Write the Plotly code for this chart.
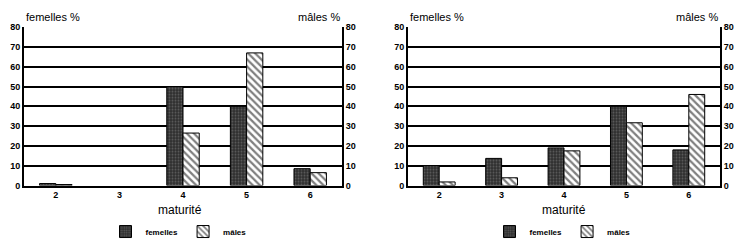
import plotly.graph_objects as go

categories = [2, 3, 4, 5, 6]
tick_labels = ["2", "3", "4", "5", "6"]
left_femelles = [1, None, 50, 40, 8.5]
left_males = [0.5, None, 26.5, 67, 6.5]
right_femelles = [10, 13.7, 19, 40, 18]
right_males = [1.8, 3.9, 17.5, 31.7, 46]

FONT = "Liberation Sans"
fem_marker = dict(color="#2e2e2e", line=dict(color="black", width=1),
                  pattern=dict(shape=".", fgcolor="#8a8a8a", size=3, solidity=0.35))
male_marker = dict(color="white", line=dict(color="black", width=1),
                   pattern=dict(shape="\\", fgcolor="black", bgcolor="white", size=5, solidity=0.45))

fig = go.Figure()
panels = [
    ("x", "y", left_femelles, left_males, "legend"),
    ("x2", "y3", right_femelles, right_males, "legend2"),
]
for xa, ya, fem, mal, leg in panels:
    fig.add_trace(go.Bar(x=categories, y=fem, name="femelles", xaxis=xa, yaxis=ya,
                         marker=fem_marker, legend=leg))
    fig.add_trace(go.Bar(x=categories, y=mal, name="mâles", xaxis=xa, yaxis=ya,
                         marker=male_marker, legend=leg))

ydom = [0.251, 0.908]
xdoms = [[0.032, 0.456], [0.544, 0.96]]
tickfont = dict(family=FONT, size=9, color="black", weight="bold")
common_x = dict(range=[1.5, 6.5], tickvals=categories, ticktext=tick_labels,
                showgrid=False, zeroline=False, showline=True, linecolor="black", linewidth=2,
                ticks="", tickfont=tickfont, fixedrange=True)
common_y = dict(range=[0, 80], dtick=10, showgrid=True, gridcolor="black", gridwidth=2,
                zeroline=False, showline=True, linecolor="black", linewidth=2, ticks="",
                tickfont=tickfont, fixedrange=True)

legfont = dict(family=FONT, size=8, color="black", weight="bold")
fig.update_layout(
    width=750, height=251, margin=dict(l=0, r=0, t=0, b=0),
    paper_bgcolor="white", plot_bgcolor="white",
    barmode="group", bargap=0.49, bargroupgap=0,
    font=dict(family=FONT, color="black"),
    xaxis=dict(domain=xdoms[0], anchor="y", **common_x),
    xaxis2=dict(domain=xdoms[1], anchor="y3", **common_x),
    yaxis=dict(domain=ydom, anchor="x", side="left", **common_y),
    yaxis2=dict(domain=ydom, anchor="x", side="right", overlaying="y", **{**common_y, "showgrid": False}),
    yaxis3=dict(domain=ydom, anchor="x2", side="left", **common_y),
    yaxis4=dict(domain=ydom, anchor="x2", side="right", overlaying="y3", **{**common_y, "showgrid": False}),
    legend=dict(orientation="h", x=0.238, y=0.06, xanchor="center", yanchor="middle",
                font=legfont, itemwidth=30, bgcolor="rgba(0,0,0,0)"),
    legend2=dict(orientation="h", x=0.75, y=0.06, xanchor="center", yanchor="middle",
                 font=legfont, itemwidth=30, bgcolor="rgba(0,0,0,0)"),
)
# invisible traces so right axes render
fig.add_trace(go.Scatter(x=[None], y=[None], xaxis="x", yaxis="y2", showlegend=False))
fig.add_trace(go.Scatter(x=[None], y=[None], xaxis="x2", yaxis="y4", showlegend=False))

annots = [
    dict(x=0.032, y=1.0, text="femelles %", xanchor="left"),
    dict(x=0.456, y=1.0, text="mâles %", xanchor="right"),
    dict(x=0.544, y=1.0, text="femelles %", xanchor="left"),
    dict(x=0.96, y=1.0, text="mâles %", xanchor="right"),
]
for a in annots:
    fig.add_annotation(xref="paper", yref="paper", yanchor="top", showarrow=False,
                       font=dict(family=FONT, size=11, color="black"), yshift=-4, **a)
for xc in [0.24, 0.752]:
    fig.add_annotation(xref="paper", yref="paper", x=xc, y=(251 - 213) / 251, text="maturité",
                       showarrow=False, xanchor="center", yanchor="middle",
                       font=dict(family=FONT, size=12, color="black"))

fig.write_html("out.html")
